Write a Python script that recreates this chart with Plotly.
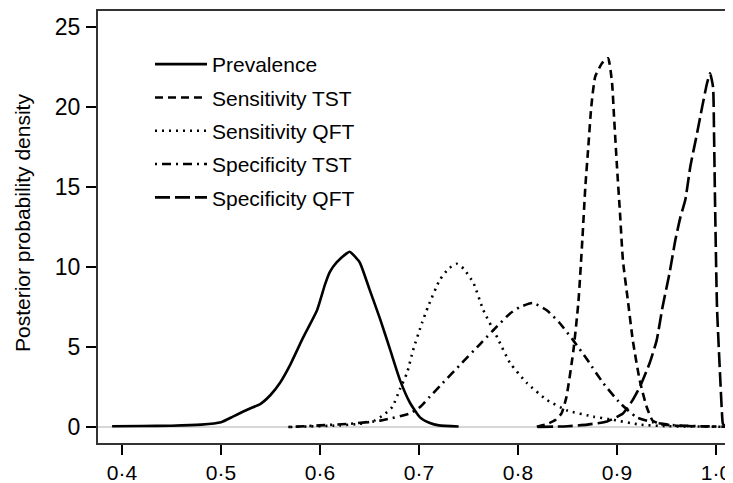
import plotly.graph_objects as go

# ---------------- data ----------------
prev_x = [0.39, 0.42, 0.45, 0.48, 0.50, 0.512, 0.522, 0.531, 0.54, 0.55, 0.56, 0.57, 0.583,
          0.597, 0.605, 0.61, 0.617, 0.627, 0.63, 0.64, 0.65, 0.661, 0.671, 0.681,
          0.691, 0.701, 0.711, 0.72, 0.74]
prev_y = [0.05, 0.06, 0.08, 0.15, 0.3, 0.65, 0.95, 1.2, 1.45, 2.0, 2.8, 3.9, 5.6,
          7.3, 8.9, 9.7, 10.3, 10.85, 10.95, 10.3, 8.6, 6.7, 4.8, 2.9,
          1.5, 0.6, 0.25, 0.1, 0.03]

sens_tst_x = [0.819, 0.830, 0.838, 0.844, 0.849, 0.856, 0.861, 0.865, 0.868, 0.871,
              0.874, 0.878, 0.885, 0.891, 0.895, 0.897, 0.900, 0.903, 0.906, 0.911,
              0.916, 0.923, 0.930, 0.936, 0.943, 0.96, 1.0]
sens_tst_y = [0.02, 0.2, 0.45, 0.85, 1.9, 4.8, 7.8, 11.7, 15.0, 17.5,
              20.0, 21.9, 22.75, 23.05, 21.5, 19.4, 16.25, 13.4, 10.4, 7.9,
              5.4, 2.9, 1.25, 0.4, 0.2, 0.08, 0.03]

sens_qft_x = [0.57, 0.62, 0.64, 0.655, 0.664, 0.673, 0.681, 0.688, 0.694, 0.703,
              0.709, 0.721, 0.730, 0.738, 0.745, 0.755, 0.765, 0.779, 0.792, 0.809,
              0.829, 0.849, 0.876, 0.896, 0.923, 0.95, 1.0, 1.03]
sens_qft_y = [0.0, 0.1, 0.2, 0.4, 0.75, 1.25, 2.4, 3.4, 4.8, 6.5,
              7.5, 9.2, 9.9, 10.2, 9.9, 9.0, 7.3, 5.6, 4.0, 2.75,
              1.7, 1.05, 0.65, 0.45, 0.15, 0.05, 0.02, 0.0]

spec_tst_x = [0.568, 0.60, 0.630, 0.661, 0.691, 0.701, 0.711, 0.721, 0.741, 0.762,
              0.779, 0.792, 0.802, 0.815, 0.829, 0.842, 0.856, 0.870, 0.886, 0.903,
              0.920, 0.936, 0.96, 1.0, 1.03]
spec_tst_y = [0.0, 0.1, 0.2, 0.4, 0.85, 1.25, 1.9, 2.55, 3.85, 5.2,
              6.3, 7.1, 7.5, 7.75, 7.3, 6.5, 5.4, 4.2, 2.75, 1.5,
              0.6, 0.3, 0.1, 0.03, 0.0]

spec_qft_x = [0.82, 0.85, 0.87, 0.89, 0.906, 0.915, 0.923, 0.933, 0.940, 0.946,
              0.953, 0.959, 0.964, 0.969, 0.974, 0.981, 0.986, 0.991, 0.994, 0.997,
              0.998, 0.999, 1.001, 1.004, 1.006, 1.007, 1.01]
spec_qft_y = [0.0, 0.05, 0.15, 0.35, 0.85, 1.6, 2.5, 4.0, 5.4, 7.5,
              9.6, 11.7, 13.1, 14.2, 16.25, 18.4, 20.0, 21.5, 22.1, 21.25,
              18.4, 14.2, 7.5, 3.4, 0.9, 0.2, 0.0]

x_tick_vals = [0.4, 0.5, 0.6, 0.7, 0.8, 0.9, 1.0]
x_tick_text = ["0·4", "0·5", "0·6", "0·7", "0·8", "0·9", "1·0"]
y_tick_vals = [0, 5, 10, 15, 20, 25]

series = [
    ("Prevalence", prev_x, prev_y, "solid"),
    ("Sensitivity TST", sens_tst_x, sens_tst_y, "8px,5px"),
    ("Sensitivity QFT", sens_qft_x, sens_qft_y, "2px,5px"),
    ("Specificity TST", spec_tst_x, spec_tst_y, "2px,5px,9px,5px"),
    ("Specificity QFT", spec_qft_x, spec_qft_y, "15px,5px"),
]

FONT = "Liberation Sans, Arial, Helvetica, sans-serif"

fig = go.Figure()
for name, xs, ys, dash in series:
    fig.add_trace(go.Scatter(
        x=xs, y=ys, mode="lines", name=name, legendgroup=name,
        line=dict(color="black", width=2.6, dash=dash, shape="spline", smoothing=0.5),
    ))

# grey horizontal reference line at zero
fig.add_hline(y=0, line=dict(color="#b0b0b0", width=1.2), layer="below")

# the page body has an 8px margin, so the figure is placed to compensate
OFF = 8
W, H = 733, 483
L, R, T, B = 98 - OFF, 0, 11 - OFF, 491 - 443
PW, PH = W - L - R, H - T - B
# x: 0.4 at page px 122, 1.0 at page px 716
x_left = 0.4 + (98 - 122) / 990.0
x_right = 0.4 + (98 + PW - 122) / 990.0


def px_x(page_x):
    return (page_x - OFF - L) / PW


def px_y(page_y):
    return 1 - (page_y - OFF - T) / PH


fig.update_layout(
    width=W, height=H,
    margin=dict(l=L, r=R, t=T, b=B, autoexpand=False),
    paper_bgcolor="white", plot_bgcolor="white",
    font=dict(family=FONT, size=21, color="black"),
    showlegend=True,
    legend=dict(
        x=px_x(150), y=px_y(44), xanchor="left", yanchor="top",
        bgcolor="rgba(0,0,0,0)", borderwidth=0,
        font=dict(family=FONT, size=21, color="black"),
        itemwidth=52, tracegroupgap=3,
    ),
    xaxis=dict(
        range=[x_left, x_right], automargin=False,
        tickvals=x_tick_vals, ticktext=x_tick_text,
        ticks="outside", ticklen=10, tickwidth=1.5, tickcolor="black",
        showline=True, linecolor="#333333", linewidth=2, mirror=True,
        showgrid=False, zeroline=False,
        tickfont=dict(family=FONT, size=21, color="black"),
        ticklabelstandoff=0,
    ),
    yaxis=dict(
        range=[-1, 26], automargin=False,
        tickvals=y_tick_vals,
        ticks="outside", ticklen=10, tickwidth=1.5, tickcolor="black",
        showline=True, linecolor="#333333", linewidth=2, mirror=False,
        showgrid=False, zeroline=False,
        tickfont=dict(family=FONT, size=23, color="black"),
        ticklabelstandoff=1,
    ),
    annotations=[dict(
        text="Posterior probability density", textangle=-90,
        xref="paper", yref="paper", x=px_x(23), y=px_y(223),
        xanchor="center", yanchor="middle", showarrow=False,
        font=dict(family=FONT, size=21, color="black"),
    )],
)

fig.write_html("out.html")
